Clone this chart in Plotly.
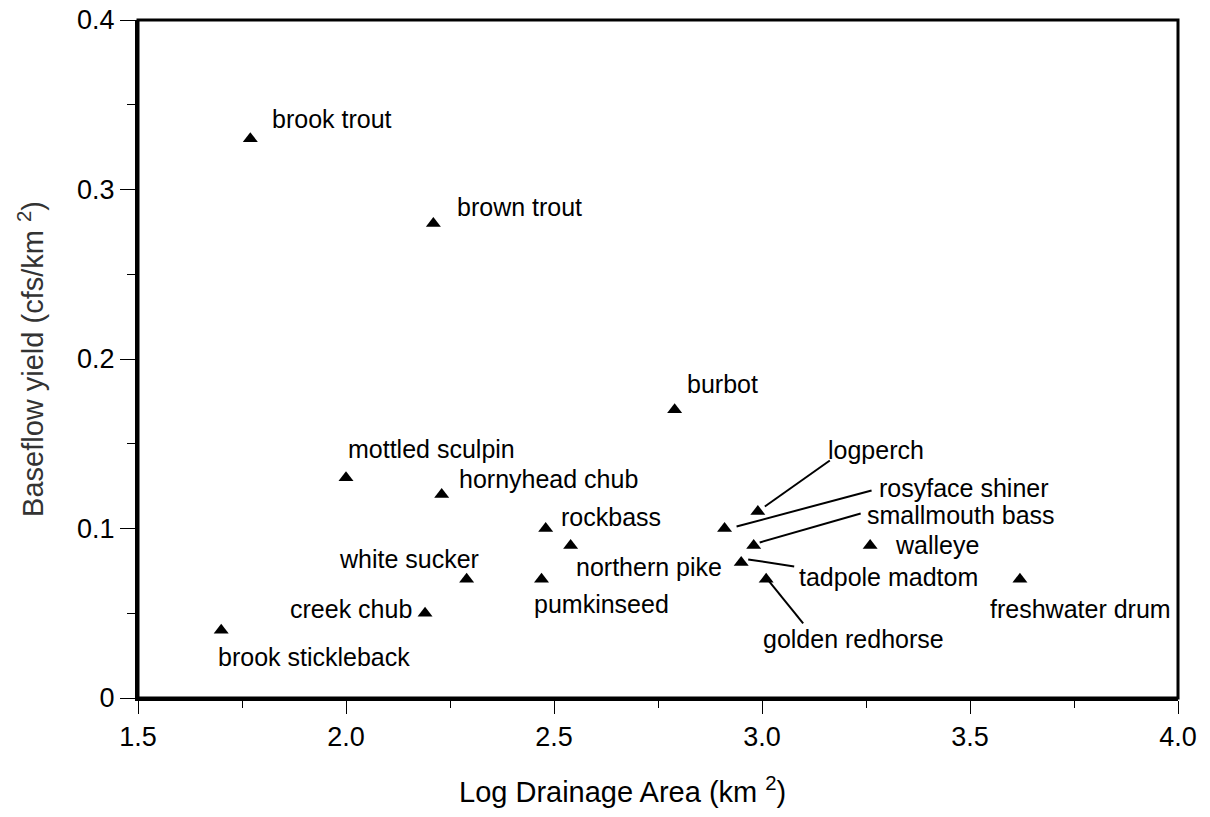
import plotly.graph_objects as go

# ---- data ----
species = ["brook trout", "brown trout", "burbot", "mottled sculpin", "hornyhead chub",
           "rockbass", "northern pike", "white sucker", "pumkinseed", "creek chub",
           "brook stickleback", "logperch", "rosyface shiner", "smallmouth bass",
           "tadpole madtom", "golden redhorse", "walleye", "freshwater drum"]
log_area = [1.77, 2.21, 2.79, 2.00, 2.23, 2.48, 2.54, 2.29, 2.47, 2.19,
            1.70, 2.99, 2.91, 2.98, 2.95, 3.01, 3.26, 3.62]
baseflow_yield = [0.33, 0.28, 0.17, 0.13, 0.12, 0.10, 0.09, 0.07, 0.07, 0.05,
                  0.04, 0.11, 0.10, 0.09, 0.08, 0.07, 0.09, 0.07]

x_ticks = [1.5, 2.0, 2.5, 3.0, 3.5, 4.0]
x_tick_text = ["1.5", "2.0", "2.5", "3.0", "3.5", "4.0"]
y_ticks = [0, 0.1, 0.2, 0.3, 0.4]
y_tick_text = ["0", "0.1", "0.2", "0.3", "0.4"]

# ---- label placement (pixel offsets: xanchor, xshift, yshift) ----
label_pos = {
    "brook trout": ("left", 20, 20),
    "brown trout": ("left", 22, 16),
    "burbot": ("left", 10, 26),
    "mottled sculpin": ("left", 0, 29),
    "hornyhead chub": ("left", 15, 16),
    "rockbass": ("left", 13, 12),
    "northern pike": ("left", 3, -22),
    "white sucker": ("right", 14, 20),
    "pumkinseed": ("left", -10, -25),
    "creek chub": ("right", -11, 4),
    "brook stickleback": ("left", -5, -27),
    "walleye": ("left", 23, 0),
    "freshwater drum": ("left", -32, -30),
    "logperch": ("left", 68, 62),
    "rosyface shiner": ("left", 152, 41),
    "smallmouth bass": ("left", 111, 30),
    "tadpole madtom": ("left", 56, -15),
    "golden redhorse": ("left", -5, -60),
}
# leader lines: pixel offsets from the point (dx0, dy0, dx1, dy1), y positive up
leaders = {
    "logperch": (7, 5, 72, 51),
    "rosyface shiner": (12, 2, 147, 38),
    "smallmouth bass": (6, 3, 107, 32),
    "tadpole madtom": (7, 3, 53, -4),
    "golden redhorse": (3, -2, 37, -44),
}

FONT = "Arial, 'Liberation Sans', sans-serif"

fig = go.Figure()
fig.add_trace(go.Scatter(
    x=log_area, y=baseflow_yield, mode="markers",
    marker=dict(symbol="triangle-up", size=13, color="black", line=dict(width=0)),
    text=species, hoverinfo="text", showlegend=False,
))

annotations = []
shapes = [
    # plot frame
    dict(type="rect", xref="paper", yref="paper", x0=0, y0=0, x1=1, y1=1,
         line=dict(color="black", width=3), fillcolor="rgba(0,0,0,0)", layer="above"),
]
for name, xv, yv in zip(species, log_area, baseflow_yield):
    if name in leaders:
        dx0, dy0, dx1, dy1 = leaders[name]
        shapes.append(dict(
            type="line", xref="x", yref="y",
            xsizemode="pixel", ysizemode="pixel", xanchor=xv, yanchor=yv,
            x0=dx0, y0=dy0, x1=dx1, y1=dy1,
            line=dict(color="black", width=2),
        ))
    xa, xs, ys = label_pos[name]
    annotations.append(dict(
        x=xv, y=yv, xref="x", yref="y", text=name, showarrow=False,
        xanchor=xa, yanchor="middle", xshift=xs, yshift=ys,
        font=dict(family=FONT, size=25, color="black"),
    ))

# x-axis title (sits a little left of the plot centre in the reference)
annotations.append(dict(
    x=0.5, y=0, xref="paper", yref="paper", text="Log Drainage Area (km <sup>2</sup>)",
    showarrow=False, xanchor="center", yanchor="middle", xshift=-36, yshift=-92,
    font=dict(family=FONT, size=29, color="black"),
))

# page body has an 8px margin -> compensate so the plot area lands at 138..1178 / 20..698
fig.update_layout(
    width=1194, height=801,
    margin=dict(l=130, r=24, t=12, b=111, autoexpand=False),
    paper_bgcolor="white", plot_bgcolor="white",
    font=dict(family=FONT, color="black"),
    annotations=annotations, shapes=shapes,
)

fig.update_xaxes(
    range=[1.5, 4.0], tickvals=x_ticks, ticktext=x_tick_text,
    showgrid=False, zeroline=False,
    showline=True, linecolor="black", linewidth=3, mirror=False,
    ticks="outside", ticklen=13, tickwidth=1, tickcolor="black",
    tickfont=dict(family=FONT, size=27, color="black"),
    ticklabeloverflow="allow",
    minor=dict(ticks="outside", ticklen=7, tickwidth=1, tickcolor="black", dtick=0.25, tick0=1.5, showgrid=False),
    automargin=False,
)
fig.update_yaxes(
    range=[0, 0.4], tickvals=y_ticks, ticktext=y_tick_text,
    showgrid=False, zeroline=False,
    showline=True, linecolor="black", linewidth=3, mirror=False,
    ticks="outside", ticklen=15, tickwidth=1, tickcolor="black",
    tickfont=dict(family=FONT, size=27, color="black"),
    ticklabeloverflow="allow",
    minor=dict(ticks="outside", ticklen=8, tickwidth=1, tickcolor="black", dtick=0.05, tick0=0, showgrid=False),
    title=dict(text="Baseflow yield (cfs/km <sup>2</sup>)",
               font=dict(family=FONT, size=29, color="#333333"), standoff=25),
    automargin=False,
)

fig.write_html("out.html")
